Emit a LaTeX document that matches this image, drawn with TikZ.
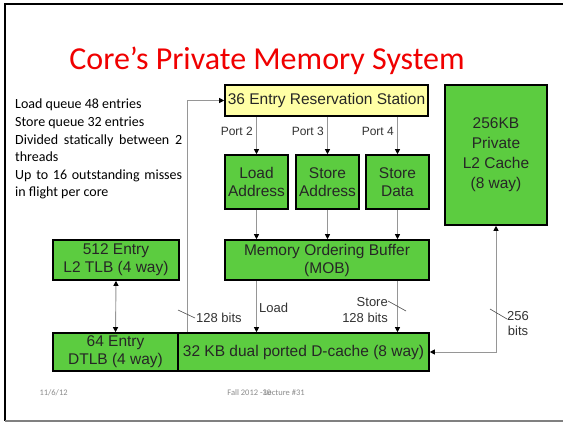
\documentclass[tikz,border=0pt]{standalone}
\usepackage{fontspec}
\setmainfont{Liberation Sans}
\newfontfamily\calibri{Carlito}
\usetikzlibrary{arrows.meta,calc}
\definecolor{boxgreen}{RGB}{92,204,64}
\definecolor{rsyellow}{RGB}{255,255,165}
\definecolor{linegray}{RGB}{150,150,150}
\definecolor{footgray}{RGB}{140,140,140}
\definecolor{titlered}{RGB}{240,0,0}
\begin{document}
\begin{tikzpicture}[x=1pt,y=-1pt,
  box/.style={draw=black, line width=1.6pt, fill=boxgreen, inner sep=0pt, align=center,
    text=black!85, font=\fontsize{15.5}{18}\selectfont},
  tip/.tip={Triangle[length=5pt,width=5pt,color=black]},
  conn/.style={draw=linegray, line width=0.9pt, -tip},
  dconn/.style={draw=linegray, line width=0.9pt, tip-tip},
  tick/.style={draw=black!70, line width=0.6pt},
  lbl/.style={font=\fontsize{13}{15.5}\selectfont, text=black!80, inner sep=1pt, align=center},
  portlbl/.style={font=\fontsize{12}{14}\selectfont, text=black!80, inner sep=1pt}
]
\useasboundingbox (0,0) rectangle (563,426);
\fill[white] (0,0) rectangle (563,426);
% slide frame
\draw[black, line width=2pt] (563,4) -- (5,4) -- (5,421);
\draw[gray, line width=1.5pt] (5,421) -- (563,421);

% title
\node[font=\calibri\fontsize{32}{36}\selectfont, text=titlered] (title) at (267,61) {Core’s Private Memory System};

% left notes (justified)
\node[anchor=north west, font=\calibri\fontsize{14}{17.6}\selectfont, align=left, inner sep=0pt] (notes) at (15,99)
  {Load queue 48 entries\\Store queue 32 entries\\\makebox[167pt][s]{Divided statically between 2}\\threads\\\makebox[167pt][s]{Up to 16 outstanding misses}\\in flight per core};

% boxes
\node[box, fill=rsyellow, minimum width=203pt, minimum height=31pt] (rs) at (326.5,100.5) {36 Entry Reservation Station};
\node[box, minimum width=63pt, minimum height=54pt] (la) at (256.5,182) {Load\\Address};
\node[box, minimum width=63pt, minimum height=54pt] (sa) at (327.5,182) {Store\\Address};
\node[box, minimum width=63pt, minimum height=54pt] (sd) at (397.5,182) {Store\\Data};
\node[box, minimum width=204pt, minimum height=40pt] (mob) at (327,260) {Memory Ordering Buffer\\(MOB)};
\node[box, minimum width=126pt, minimum height=40pt] (l2tlb) at (116,260) {512 Entry\\L2 TLB (4 way)};
\node[box, minimum width=125pt, minimum height=38pt] (dtlb) at (115.5,352) {64 Entry\\DTLB (4 way)};
\node[box, minimum width=251pt, minimum height=38pt] (dc) at (303.5,352) {32 KB dual ported D-cache (8 way)};
\node[box, minimum width=102pt, minimum height=140pt, font=\fontsize{15.5}{20}\selectfont] (l2) at (496,155) {256KB\\Private\\L2 Cache\\(8 way)};

% ports
\draw[conn] (la.north |- rs.south) -- (la.north);
\draw[conn] (sa.north |- rs.south) -- (sa.north);
\draw[conn] (sd.north |- rs.south) -- (sd.north);
\node[portlbl, anchor=east] (p2) at (254,131) {Port 2};
\node[portlbl, anchor=east] (p3) at (325,131) {Port 3};
\node[portlbl, anchor=east] (p4) at (395,131) {Port 4};

% to MOB
\draw[conn] (la.south) -- (la.south |- mob.north);
\draw[conn] (sa.south) -- (sa.south |- mob.north);
\draw[conn] (sd.south) -- (sd.south |- mob.north);

% MOB to D-cache
\draw[conn] (la.south |- mob.south) -- (la.south |- dc.north);
\node[lbl, anchor=west] (load) at (258,308) {Load};
\draw[conn] (sd.south |- mob.south) -- (sd.south |- dc.north);
\node[lbl, anchor=east] (store) at (389,302) {Store};
\node[lbl, anchor=east] (s128) at (389,318) {128 bits};
\draw[tick] (388,301) -- (406,311);

% 128 bits loop to RS
\coordinate (up) at (187,100.5);
\draw[conn] (dc.north -| up) -- (up) -- (rs.west);
\draw[tick] (178,310) -- (195,318);
\node[lbl, anchor=west] (l128) at (195,318) {128 bits};

% TLBs
\draw[dconn] (l2tlb.south) -- (dtlb.north);

% 256 bits to L2
\coordinate (corner) at (l2.south |- dc.east);
\draw[dconn] (dc.east) -- (corner) -- (l2.south);
\draw[tick] (490,309) -- (507,319);
\node[lbl] (l256) at (518,323.5) {256\\bits};

% footer
\node[anchor=west, font=\calibri\fontsize{8.5}{10}\selectfont, text=footgray] (date) at (36,393) {11/6/12};
\node[font=\calibri\fontsize{8.5}{10}\selectfont, text=footgray] (foot) at (266,393) {Fall 2012 -\rlap{30}\,Lecture \#31};
\end{tikzpicture}
\end{document}
